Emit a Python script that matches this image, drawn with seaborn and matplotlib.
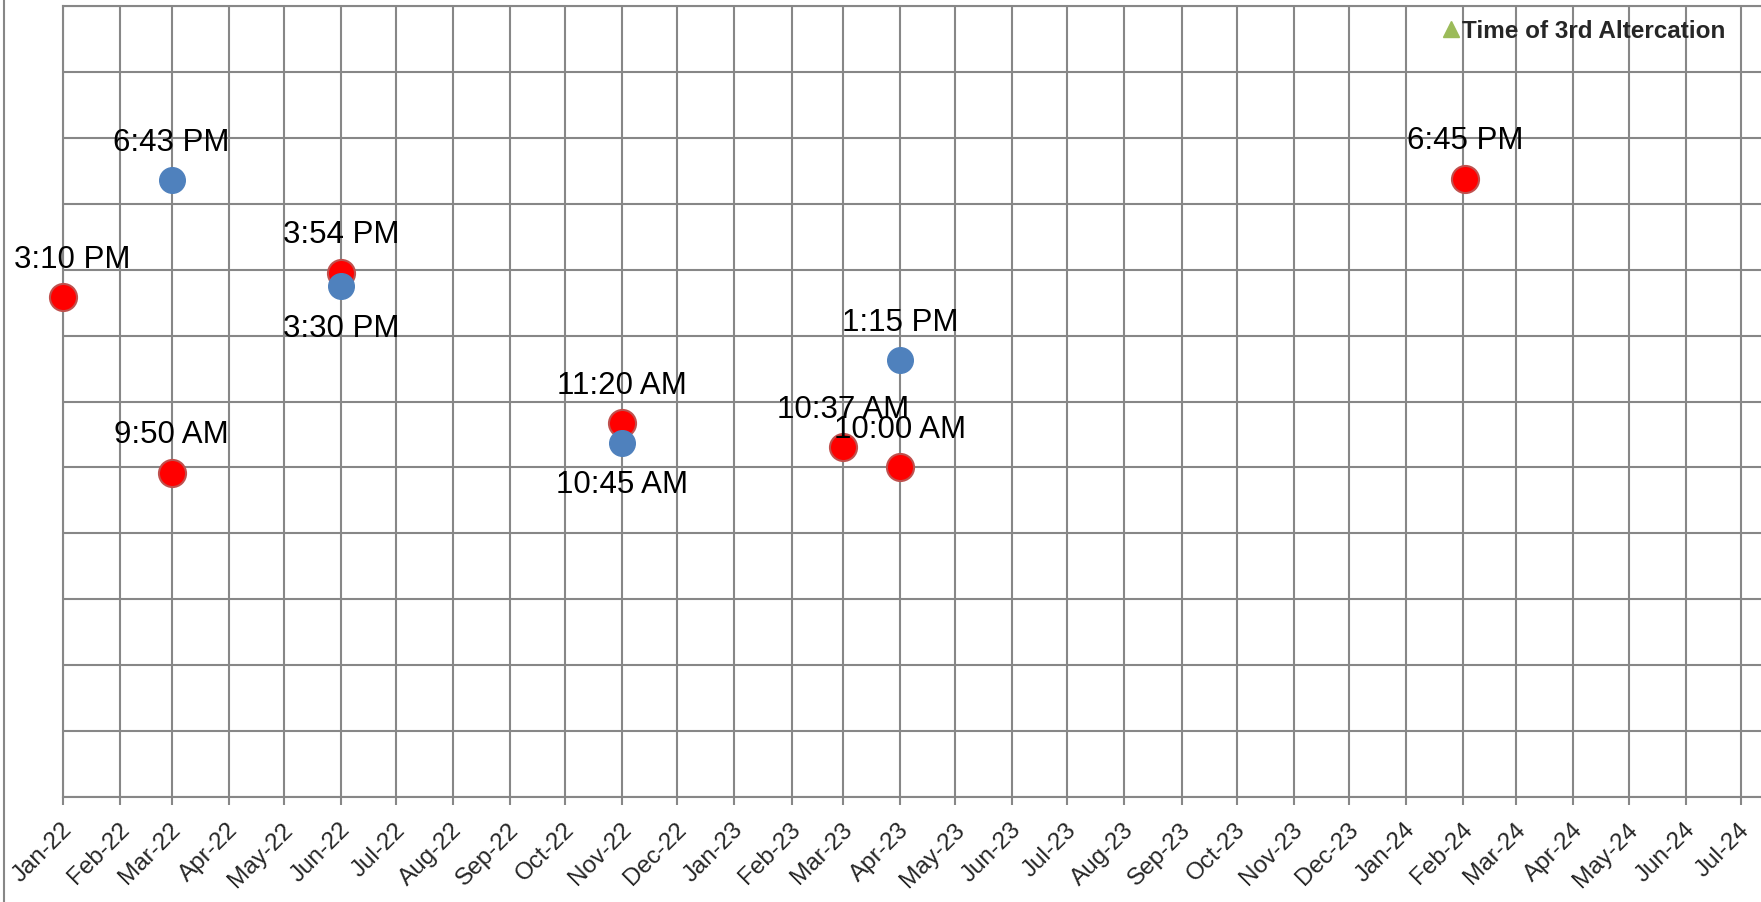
import pandas as pd
import seaborn as sns
import matplotlib.pyplot as plt
import matplotlib.dates as mdates
from matplotlib.lines import Line2D
from matplotlib.transforms import ScaledTranslation


FIRST_DATES = ["2022-01-01", "2022-03-01", "2022-06-01", "2022-11-01",
               "2023-03-01", "2023-04-01", "2024-02-02"]
FIRST_TIMES = ["3:10 PM", "9:50 AM", "3:54 PM", "11:20 AM",
               "10:37 AM", "10:00 AM", "6:45 PM"]
SECOND_DATES = ["2022-03-01", "2022-06-01", "2022-11-01", "2023-04-01"]
SECOND_TIMES = ["6:43 PM", "3:30 PM", "10:45 AM", "1:15 PM"]
THIRD_LABEL = "Time of 3rd Altercation"

LABELS_BELOW = {"3:30 PM", "10:45 AM"}
GRID = "#878787"


# Turn "3:10 PM" style strings into hours of the day
def to_hours(times):
    t = pd.to_datetime(pd.Series(times), format="%I:%M %p")
    return t.dt.hour + t.dt.minute / 60


def build_frame(dates, times):
    return pd.DataFrame({
        "date": pd.to_datetime(dates),
        "hours": to_hours(times),
        "label": times,
    })


def main():
    first = build_frame(FIRST_DATES, FIRST_TIMES)
    second = build_frame(SECOND_DATES, SECOND_TIMES)

    sns.set_style("white")
    plt.rcParams["font.family"] = ["Liberation Sans", "DejaVu Sans"]

    W, H = 1761, 903
    fig = plt.figure(figsize=(W / 100, H / 100), dpi=100)
    ax = fig.add_axes([63 / W, 1 - 798 / H, 1 - 63 / W, (798 - 7) / H])

    sns.scatterplot(data=first, x="date", y="hours", ax=ax, s=380,
                    color="#FF0000", edgecolor="#C0504D", linewidth=1.5,
                    zorder=3, legend=False, clip_on=False)
    sns.scatterplot(data=second, x="date", y="hours", ax=ax, s=340,
                    color="#4F81BD", edgecolor="#4F81BD", linewidth=1,
                    zorder=4, legend=False, clip_on=False)

    # data labels: above the marker, two of the blue ones below
    for df in (first, second):
        for _, row in df.iterrows():
            if row["label"] in LABELS_BELOW:
                off, va = (0, -19), "top"
            else:
                off, va = (0, 22), "baseline"
            if row["date"] == pd.Timestamp("2022-01-01"):
                off = (6.5, off[1])
            ax.annotate(row["label"], (row["date"], row["hours"]),
                        xytext=off, textcoords="offset points",
                        ha="center", va=va, fontsize=22.5, color="black",
                        zorder=5)

    ax.set_xlim(pd.Timestamp("2022-01-01"), pd.Timestamp("2024-07-12"))
    ax.set_ylim(0, 24)
    months = pd.date_range("2022-01-01", "2024-07-01", freq="MS")
    ax.set_xticks(months)
    ax.xaxis.set_major_formatter(mdates.DateFormatter("%b-%y"))
    ax.set_yticks(range(0, 25, 2))
    ax.set_yticklabels([])
    ax.set_xlabel("")
    ax.set_ylabel("")

    ax.grid(True, color=GRID, linewidth=1.5)
    ax.set_axisbelow(True)
    for side in ("top", "bottom", "left"):
        ax.spines[side].set_color(GRID)
        ax.spines[side].set_linewidth(1.5)
    ax.spines["right"].set_visible(False)

    ax.tick_params(axis="y", length=0)
    ax.tick_params(axis="x", direction="out", length=6, width=1.5,
                   color=GRID, labelsize=17.5, pad=9, bottom=True)
    shift = ScaledTranslation(-2 / 100, 0, fig.dpi_scale_trans)
    for lbl in ax.get_xticklabels():
        lbl.set_rotation(45)
        lbl.set_ha("right")
        lbl.set_va("top")
        lbl.set_rotation_mode("anchor")
        lbl.set_transform(lbl.get_transform() + shift)

    handle = Line2D([], [], marker="^", linestyle="none", color="#9BBB59",
                    markersize=11)
    fig.legend([handle], [THIRD_LABEL], loc="center right",
               bbox_to_anchor=(1725 / W, 1 - 32 / H), frameon=False,
               borderpad=0, borderaxespad=0, handlelength=0.6,
               handletextpad=0.15, prop={"weight": "bold", "size": 17.5})

    # outer chart border on the left
    fig.add_artist(Line2D([4 / W, 4 / W], [0, 1], color=GRID, linewidth=1.5))

    fig.savefig("out.png", dpi=100)


if __name__ == "__main__":
    main()
